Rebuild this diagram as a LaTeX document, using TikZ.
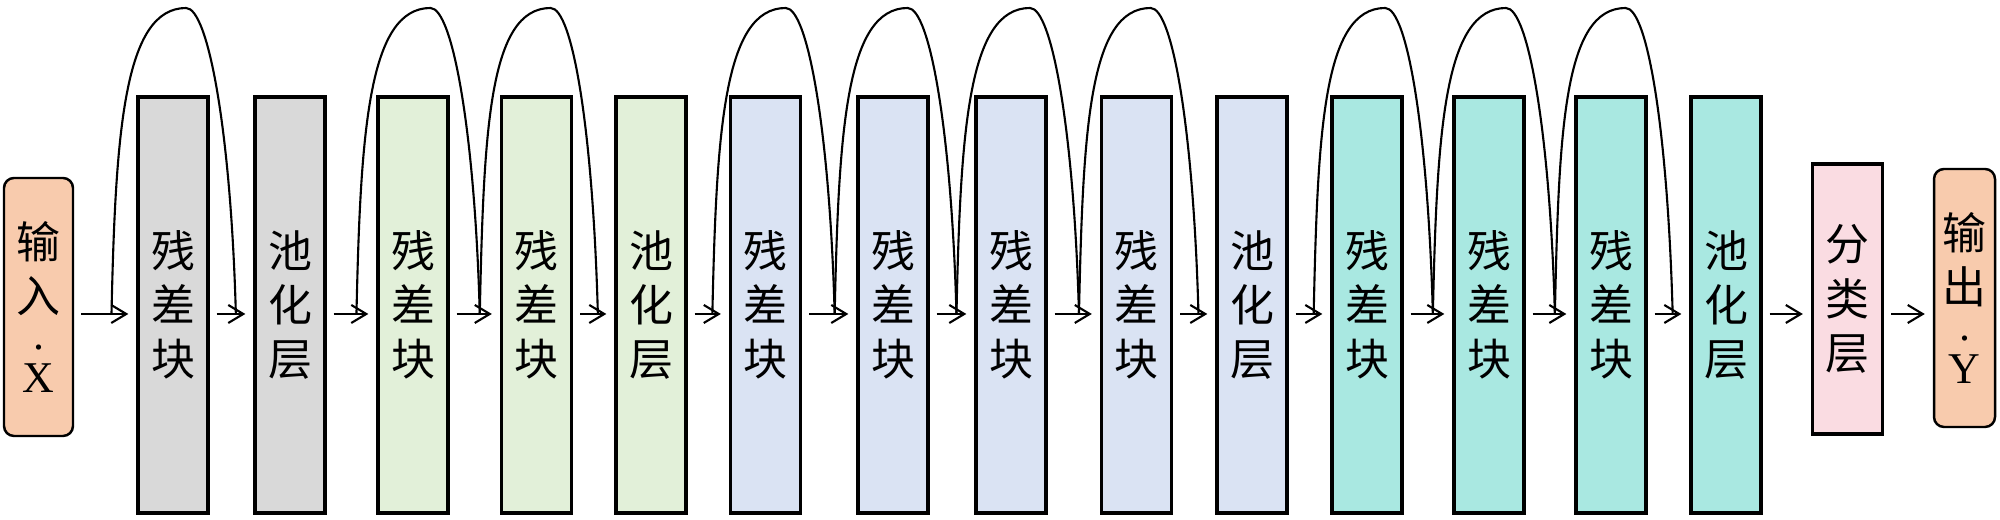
\documentclass[tikz,border=0pt]{standalone}
\usepackage{fontspec}
\setmainfont{Liberation Serif}
\newfontfamily\cjk{Noto Sans CJK SC}
\usetikzlibrary{arrows.meta, calc}
\definecolor{iofill}{HTML}{F8CBAD}
\definecolor{stagegray}{HTML}{D9D9D9}
\definecolor{stagegreen}{HTML}{E2F0D9}
\definecolor{stageblue}{HTML}{DAE3F3}
\definecolor{stageteal}{HTML}{A9E8E1}
\definecolor{clsfill}{HTML}{FADCE2}
\newcommand{\zh}[1]{{\cjk #1}}
\newcommand{\skiparc}[2]{%
  \draw[skipline] (#1) .. controls ($(#1)+(0.04,1.83)$) and ($(#1)!0.6!(#2)+(-0.62,3.06)$)
    .. ($(#1)!0.6!(#2)+(0,3.06)$)
    .. controls ($(#1)!0.6!(#2)+(0.22,3.06)$) and ($(#2)+(-0.05,1.83)$) .. (#2);%
}
\tikzset{
  layerbox/.style={draw=black, line width=0.95pt, minimum width=0.70cm, minimum height=4.16cm,
    inner sep=0pt, align=center, font=\cjk\fontsize{12.5pt}{15.4pt}\selectfont},
  iobox/.style={draw=black, line width=0.7pt, rounded corners=0.1cm, fill=iofill,
    minimum height=2.58cm, inner sep=0pt, align=center, font=\fontsize{12.5pt}{15.4pt}\selectfont},
  flowarrow/.style={-{Straight Barb[length=1.5mm, width=1.8mm]}, line width=0.6pt,
    shorten <=0.07cm, shorten >=0.08cm},
  skipline/.style={line width=0.6pt},
}
\begin{document}
\begin{tikzpicture}
  \useasboundingbox (0,0) rectangle (20,5.2);
  \coordinate (lvl) at (0,2.06);

  % input
  \node[iobox, minimum width=0.69cm] (in) at (0.385,2.13)
    {\zh{输}\\\zh{入}\\[-5pt]\makebox[0pt]{.}\\[-3pt]X};

  % stage 1
  \node[layerbox, fill=stagegray] (r1) at (1.73,2.15) {残\\差\\块};
  \node[layerbox, fill=stagegray] (p1) at (2.90,2.15) {池\\化\\层};

  % stage 2
  \node[layerbox, fill=stagegreen] (r2) at (4.13,2.15) {残\\差\\块};
  \node[layerbox, fill=stagegreen] (r3) at (5.365,2.15) {残\\差\\块};
  \node[layerbox, fill=stagegreen] (p2) at (6.51,2.15) {池\\化\\层};

  % stage 3
  \node[layerbox, fill=stageblue] (r4) at (7.655,2.15) {残\\差\\块};
  \node[layerbox, fill=stageblue] (r5) at (8.93,2.15) {残\\差\\块};
  \node[layerbox, fill=stageblue] (r6) at (10.11,2.15) {残\\差\\块};
  \node[layerbox, fill=stageblue] (r7) at (11.365,2.15) {残\\差\\块};
  \node[layerbox, fill=stageblue] (p3) at (12.52,2.15) {池\\化\\层};

  % stage 4
  \node[layerbox, fill=stageteal] (r8) at (13.67,2.15) {残\\差\\块};
  \node[layerbox, fill=stageteal] (r9) at (14.89,2.15) {残\\差\\块};
  \node[layerbox, fill=stageteal] (r10) at (16.11,2.15) {残\\差\\块};
  \node[layerbox, fill=stageteal] (p4) at (17.26,2.15) {池\\化\\层};

  % head
  \node[layerbox, fill=clsfill, minimum height=2.70cm] (cls) at (18.475,2.21) {分\\类\\层};
  \node[iobox, minimum width=0.61cm] (out) at (19.645,2.22)
    {\zh{输}\\\zh{出}\\[-5pt]\makebox[0pt]{.}\\[-3pt]Y};

  % main flow
  \foreach \a/\b [count=\i from 0] in {in/r1, r1/p1, p1/r2, r2/r3, r3/p2, p2/r4, r4/r5, r5/r6,
      r6/r7, r7/p3, p3/r8, r8/r9, r9/r10, r10/p4, p4/cls, cls/out}
    \draw[flowarrow] (\a.east |- lvl) -- coordinate[pos=0.6] (j\i) (\b.west |- lvl);

  % shortcut connections
  \foreach \s/\e in {0/1, 2/3, 3/4, 5/6, 6/7, 7/8, 8/9, 10/11, 11/12, 12/13}
    \skiparc{j\s}{j\e};
\end{tikzpicture}
\end{document}
